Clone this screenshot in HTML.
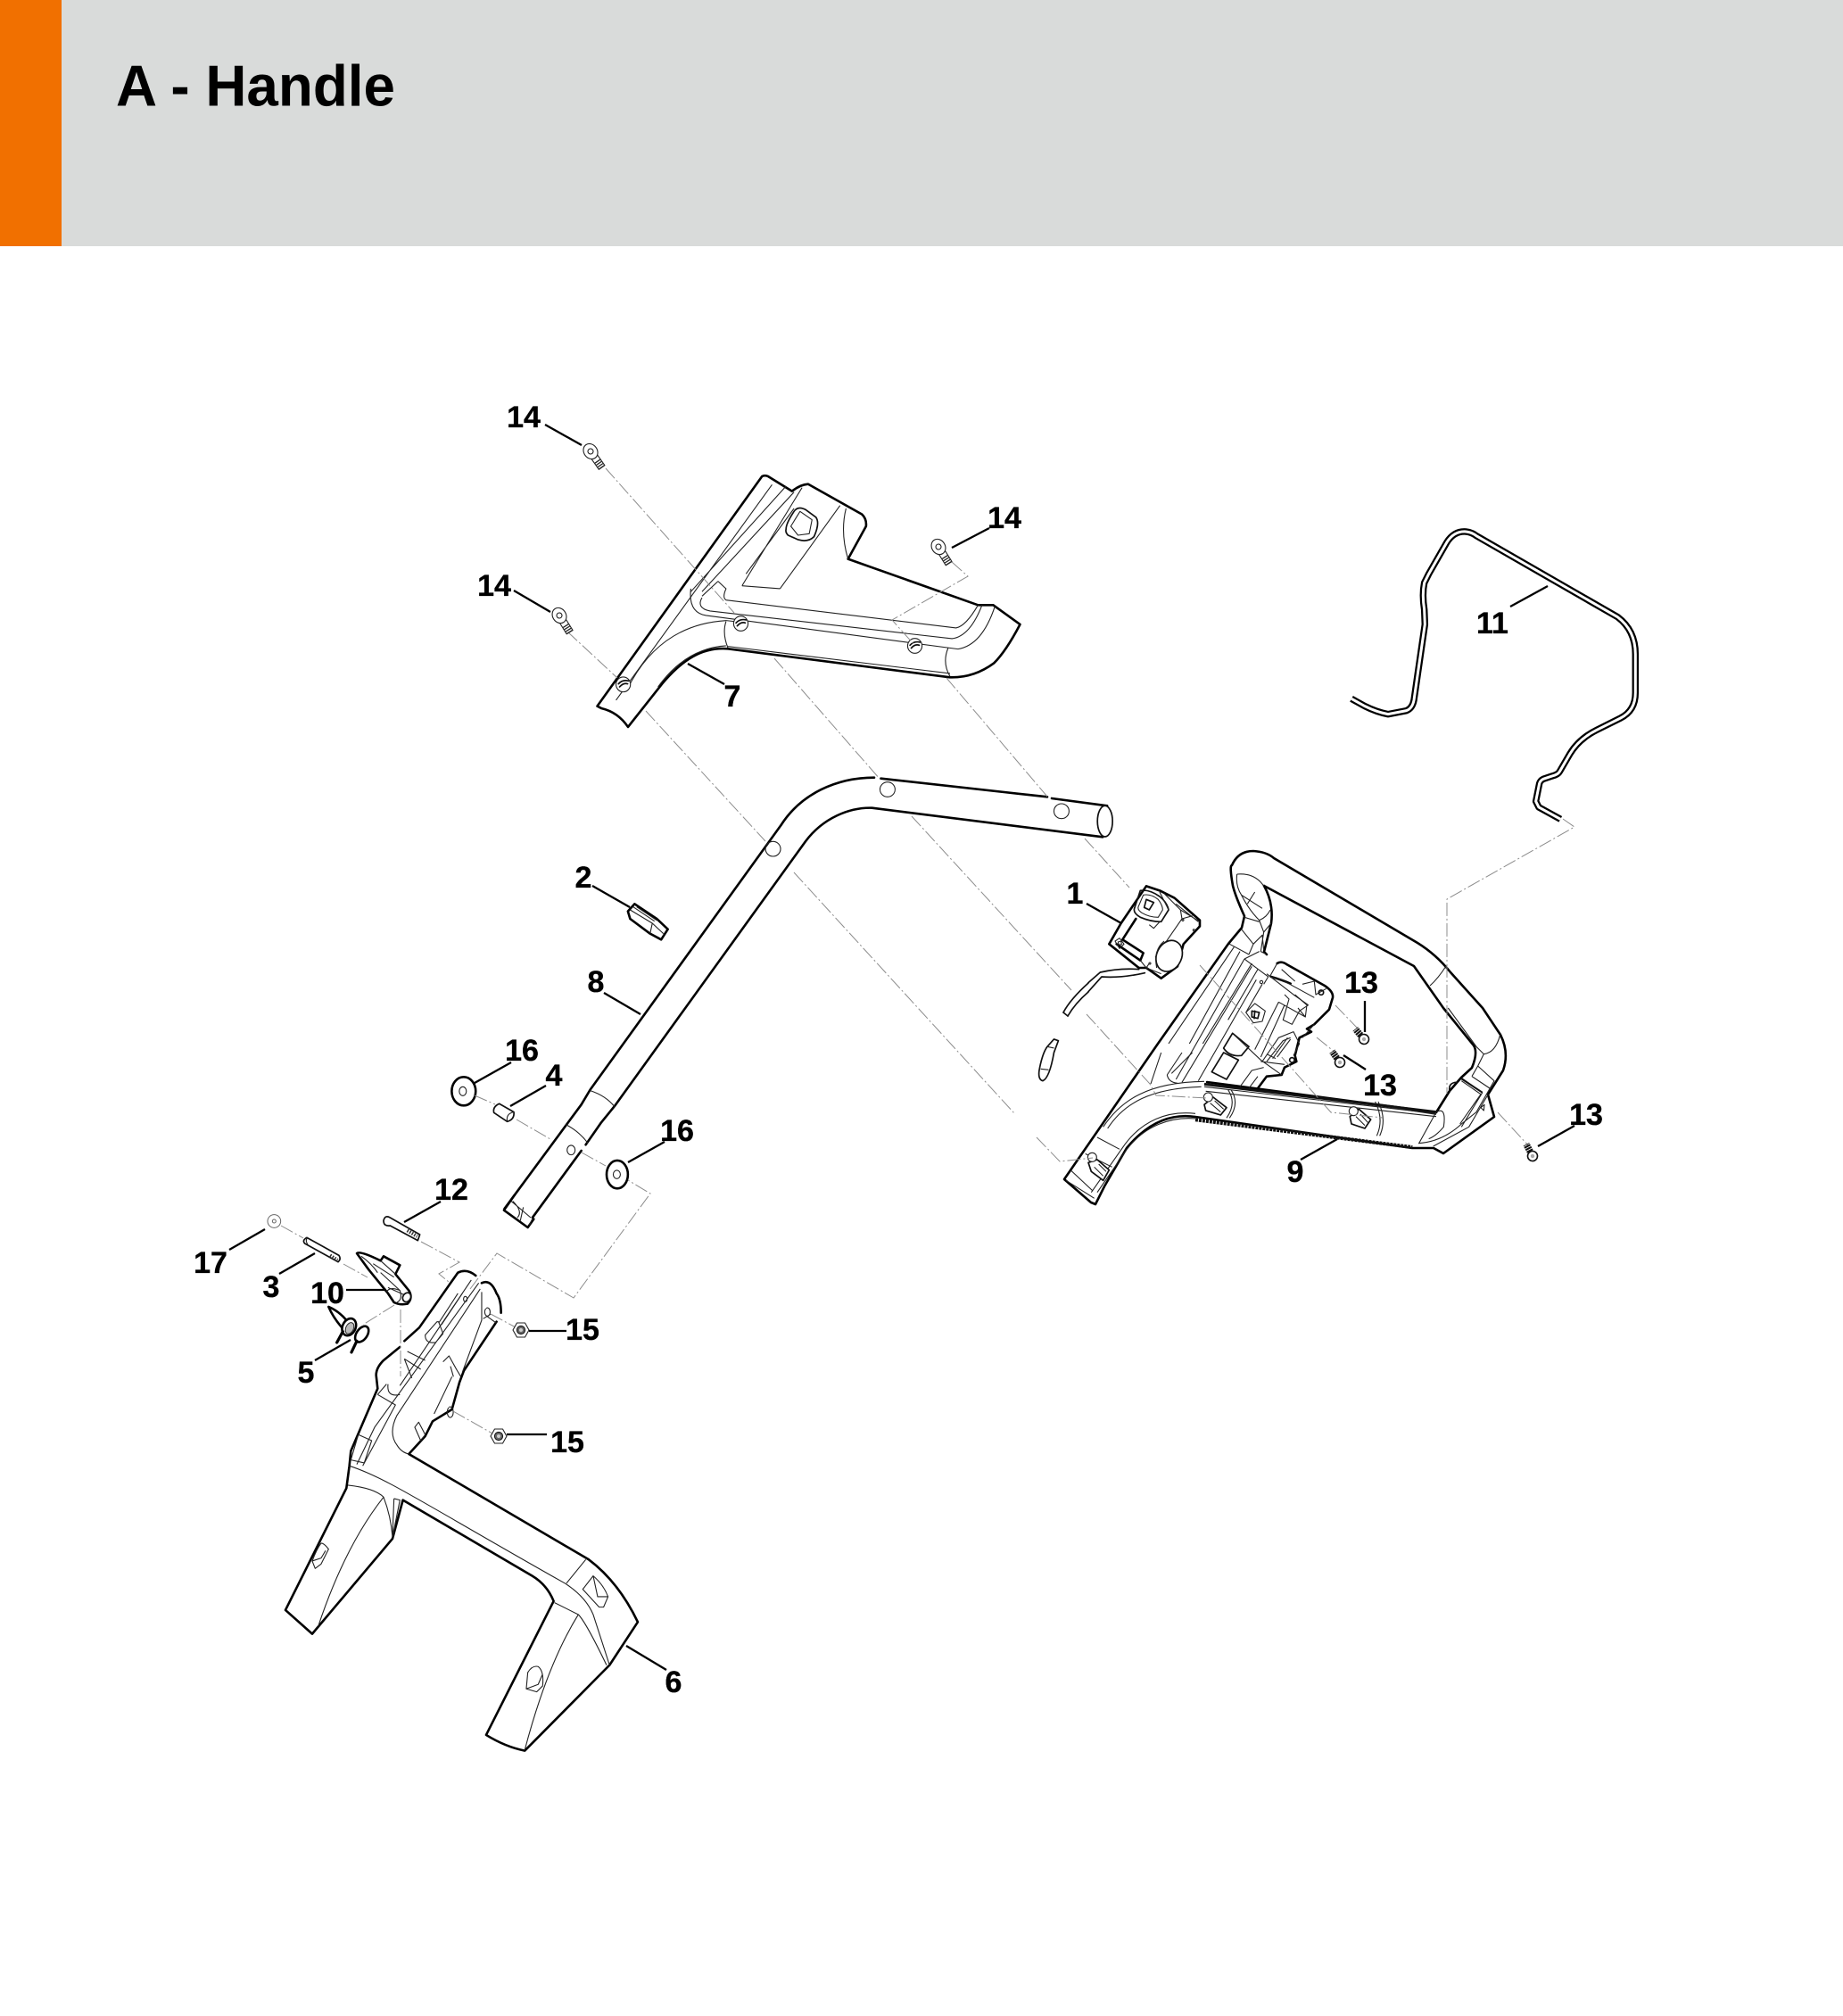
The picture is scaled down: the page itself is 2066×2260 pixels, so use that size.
<!DOCTYPE html>
<html><head><meta charset="utf-8"><title>A - Handle</title>
<style>
html,body{margin:0;padding:0;background:#fff}
svg{display:block}
svg *{vector-effect:non-scaling-stroke}
.k{fill:none;stroke:#000;stroke-width:2.6;stroke-linejoin:round;stroke-linecap:round}
.w{fill:#fff;stroke:#000;stroke-width:2.6;stroke-linejoin:round;stroke-linecap:round}
.m{fill:none;stroke:#111;stroke-width:1.7;stroke-linejoin:round;stroke-linecap:round}
.mw{fill:#fff;stroke:#111;stroke-width:1.7;stroke-linejoin:round}
.t{fill:none;stroke:#222;stroke-width:1.1;stroke-linejoin:round}
.tw{fill:#fff;stroke:#222;stroke-width:1.1;stroke-linejoin:round}
.d{fill:none;stroke:#8c8c8c;stroke-width:1;stroke-dasharray:15 3 2 3}
.l{fill:none;stroke:#000;stroke-width:2.3}
text.n{font-family:"Liberation Sans",sans-serif;font-weight:700;font-size:34px;text-anchor:middle;fill:#000;stroke:#000;stroke-width:.35}
</style></head><body>
<svg xmlns="http://www.w3.org/2000/svg" width="2066" height="2260" viewBox="0 0 2066 2260">
<defs>
<g id="b14"><path class="tw" d="M-4 5 L4 5 L4 22 L-4 22 Z"/><path d="M0 13 L0 22" stroke="#222" stroke-width="7" stroke-dasharray="1.3 1.4" fill="none"/><ellipse class="tw" rx="7.5" ry="9"/><circle class="t" r="3"/></g>
<g id="s13"><path d="M0 -3 L0 -15" stroke="#111" stroke-width="7.5" stroke-dasharray="2 .8" fill="none"/><circle r="5.5" fill="#fff" stroke="#111" stroke-width="1.6"/><circle r="2.2" fill="#aaa"/></g>
<g id="n15"><polygon class="tw" points="9,0 4.5,8 -4.5,8 -9,0 -4.5,-8 4.5,-8"/><circle r="4.6" fill="#666" stroke="#111"/><circle r="2" fill="#ccc"/></g>
</defs>
<rect width="2066" height="2260" fill="#fff"/>
<rect x="0" y="0" width="2066" height="276" fill="#d9dbda"/>
<rect x="0" y="0" width="69" height="276" fill="#f17000"/>
<text x="130" y="118.5" font-family="'Liberation Sans',sans-serif" font-weight="700" font-size="65" textLength="313" lengthAdjust="spacingAndGlyphs">A - Handle</text>

<!-- part 7 -->
<g transform="translate(500 430) scale(.4484 .3333)">
<path class="w" d="M378 1085 L790 312 Q797 307 805 312 L865 362 Q885 340 905 338 L1040 440 Q1052 455 1050 480 L1005 590 L1330 745 L1368 745 L1435 810 Q1400 900 1370 940 Q1320 990 1260 988 L705 892 C640 885 590 930 540 1010 L455 1155 Q430 1105 388 1092 Z"/>
<path class="t" d="M425 1065 L815 340 M612 700 L850 345 M640 700 L870 365 M740 680 L890 350 M835 690 L985 410 M740 680 L835 690 M750 640 L870 420 M1000 420 Q985 500 1005 590"/>
<path class="m" d="M850 490 Q850 470 870 430 Q880 410 900 425 L925 450 Q935 470 920 515 Q905 535 880 525 L855 510 Q848 500 850 490 Z"/>
<path class="t" d="M862 480 L885 430 L915 458 L908 505 L880 510 Z M612 690 Q605 770 650 780 L1280 893 Q1340 880 1372 750 M640 720 Q625 755 660 765 L1265 858 Q1310 850 1340 745 M680 665 L640 715 M680 665 L700 690 Q690 720 700 728 L1275 822 Q1300 815 1330 745 M460 1010 Q540 810 700 797 L720 800 M700 800 Q690 840 705 890 M1255 890 Q1240 940 1260 985 M705 884 L1260 975 M530 1020 Q600 890 700 882"/>
<ellipse cx="737" cy="807" rx="18" ry="25" class="tw"/><ellipse cx="1172" cy="882" rx="18" ry="25" class="tw"/><ellipse cx="443" cy="1012" rx="18" ry="25" class="tw"/>
<path class="m" d="M725 805 Q735 790 750 795 M728 815 Q738 800 748 805 M1160 880 Q1170 865 1185 870 M1163 890 Q1172 875 1183 880 M431 1010 Q441 995 456 1000 M434 1020 Q444 1005 454 1010"/>
</g>

<!-- part 8 tube -->
<g transform="translate(480 850) scale(.4975 .3333)">
<path d="M172 1515 L345 1165 L365 1115 L795 225 C840 120 920 65 1005 65 L1530 160 L1520 265 L1000 167 C950 165 890 200 850 280 L420 1170 L390 1225 L235 1545 Z" fill="#fff"/>
<path class="k" d="M172 1515 L345 1165 L365 1115 L795 225 C840 120 920 65 1005 65 M1020 68 L1395 130 M1405 135 L1530 160"/>
<path class="k" d="M235 1545 L345 1320 M355 1300 L390 1225 L420 1170 L850 280 C890 200 950 165 1000 167 L1520 265"/>
<ellipse class="mw" cx="1525" cy="212" rx="17" ry="52"/>
<ellipse class="t" cx="1035" cy="105" rx="17" ry="25"/><ellipse class="t" cx="1427" cy="178" rx="17" ry="25"/><ellipse class="t" cx="777" cy="305" rx="17" ry="25"/><ellipse class="t" cx="322" cy="1318" rx="9" ry="16"/>
<path class="t" d="M365 1118 Q400 1135 420 1172 M310 1232 Q340 1255 360 1295"/>
<!-- knob 2 -->
<path class="w" d="M450 515 L465 490 L515 540 L540 575 L525 610 L500 590 L455 540 Z"/>
<path class="t" d="M455 510 L505 555 L500 590 M470 500 L515 545 M505 555 L530 590 M462 500 L510 548"/>
<!-- washers and pin -->
<ellipse class="w" cx="80" cy="1120" rx="27" ry="48"/><ellipse class="t" cx="78" cy="1120" rx="8" ry="15"/>
<ellipse class="w" cx="426" cy="1400" rx="24" ry="47"/><ellipse class="t" cx="425" cy="1400" rx="8" ry="14"/>
<path class="mw" d="M160 1162 L193 1190 Q195 1215 178 1222 L148 1192 Q145 1172 160 1162 Z"/>
<path class="t" d="M193 1190 Q175 1195 178 1222"/>
<!-- clip -->
<path class="mw" d="M1410 945 L1420 950 L1410 990 Q1400 1075 1385 1085 Q1372 1080 1378 1040 Q1385 990 1395 970 Z"/>
<path class="t" d="M1395 970 L1410 975 M1380 1045 L1398 1048"/>
</g>

<!-- part 9 silhouette and hole -->
<path class="w" d="M1193 1322 L1298 1170 L1377 1058 L1392 1040 L1395 1027 Q1385 1005 1382 993 Q1378 970 1381 970 Q1388 954 1405 954 Q1420 955 1428 962 L1589 1057 Q1610 1070 1626 1090 L1662 1130 L1682 1160 Q1692 1180 1685 1200 L1668 1227 L1675 1252 L1618 1293 L1607 1287 L1583 1287 L1340 1252 C1313 1248 1287 1258 1263 1287 L1238 1330 L1228 1350 L1223 1348 Z"/>
<path d="M1417 993 L1585 1083 L1618 1130 L1652 1172 Q1657 1180 1650 1197 L1638 1208 L1625 1223 L1610 1247 L1353 1213 L1340 1211 L1440 1090 L1425 1035 Q1428 1013 1417 993 Z" fill="#fff"/>
<path class="k" d="M1417 993 Q1428 1013 1425 1035 L1417 1067 L1420 1070 M1417 993 L1585 1083 L1618 1130 L1652 1172 Q1657 1180 1650 1197 L1638 1208 L1625 1223 L1610 1247 M1353 1213 L1610 1247"/>
<path class="t" d="M1621 1083 Q1612 1097 1603 1105"/>

<!-- grip + bar upper + part 1 -->
<g transform="translate(1220 970) scale(.3333)">
<path class="t" d="M500 30 Q560 25 590 70 M500 30 Q495 70 515 100 Q540 150 575 185 Q600 175 612 150 M515 100 L585 145 M560 90 L535 130 M575 185 L590 225 L580 290 L600 300 M615 195 L590 225 M525 175 L575 190 M475 265 L540 300 M515 215 L555 265 L540 300 M525 315 L605 375 L590 400 M555 265 L585 235 L590 285 M525 315 L575 290 M490 275 L270 600 M510 290 L340 600 M550 330 L385 600 M570 350 L470 520"/>
<!-- cable -->
<path class="m" d="M170 350 Q105 345 40 360 L0 395 M190 362 Q110 380 45 375 L0 425"/>
<!-- part 1 -->
<path class="w" d="M195 70 L240 85 L290 110 L375 185 L375 205 L320 265 L300 340 L245 380 L195 345 L170 345 L70 265 L110 195 Z"/>
<path class="m" d="M175 85 Q205 80 240 105 Q265 125 270 150 L245 190 Q210 190 175 175 Q150 160 155 145 Z"/>
<path class="t" d="M185 100 Q210 95 235 115 Q250 135 250 150 L235 175 Q205 175 180 160 Q165 150 168 140 Z M240 90 L270 150 M255 95 L310 150 L375 190 M295 130 L370 190"/>
<path class="m" d="M195 115 L220 125 L205 150 L188 142 Z"/>
<path class="k" d="M160 180 L115 250 L185 295 L175 320 L95 265"/>
<path class="t" d="M205 200 L220 212 L240 190 M310 150 L315 180 L225 310 M315 180 L350 170 M90 255 L105 245 L120 265 L105 280 Z M100 258 L110 255 L112 266 L103 268 Z M175 320 L195 345 L245 365 M195 345 L205 330"/>
<circle class="t" cx="318" cy="184" r="3"/><circle class="t" cx="355" cy="218" r="3"/><circle class="t" cx="207" cy="330" r="3"/>
<ellipse class="mw" cx="272" cy="305" rx="42" ry="54" transform="rotate(25 272 305)"/>
<path class="t" d="M255 255 Q218 285 230 345"/>
</g>
<path class="m" d="M1192 1135 L1197 1139"/>
<path class="m" d="M1220 1102 Q1200 1120 1192 1135 M1220 1112 Q1205 1125 1197 1139"/>

<!-- bottom-left of part 9 -->
<g transform="translate(1180 1180) scale(.3333)">
<path class="t" d="M170 250 C230 160 320 100 510 97 M185 255 C240 170 330 120 500 115 M130 470 L235 320 C300 225 390 195 480 205 M150 470 L250 325 C310 245 400 215 480 222 M150 285 L225 325 M110 340 L200 385 M60 395 L135 465 M45 430 L140 490 M515 130 L1290 215 M510 115 L1290 205 M590 125 Q620 170 585 220 M600 125 Q630 170 595 220 M365 0 L330 105 M435 0 L385 75 M470 0 L400 70 M385 75 Q390 100 420 103 M1085 165 Q1115 225 1090 280 M1095 165 Q1125 225 1100 280"/>
<path class="mw" d="M510 175 L540 150 L585 185 L565 210 L515 195 Z"/><circle class="tw" cx="523" cy="150" r="15"/>
<path d="M530 170 L565 200 M545 162 L575 190" stroke="#111" fill="none"/>
<path class="mw" d="M120 370 L150 360 L190 395 L170 430 L130 400 Z"/><circle class="tw" cx="133" cy="352" r="15"/>
<path d="M140 385 L170 415 M155 375 L180 400" stroke="#111" fill="none"/>
<path class="mw" d="M1000 215 L1030 190 L1070 225 L1050 255 L1005 240 Z"/><circle class="tw" cx="1012" cy="197" r="15"/>
<path d="M1020 215 L1050 245 M1035 207 L1060 235" stroke="#111" fill="none"/>
<path d="M480 226 L1210 318" stroke="#111" stroke-width="4" stroke-dasharray="3 1" fill="none"/>
<path d="M510 106 L1290 200" stroke="#111" stroke-width="3" fill="none"/>
</g>

<!-- right end of part 9 -->
<g transform="translate(1560 1130) scale(.3333)">
<path class="t" d="M190 0 L285 130 L310 155 Q350 150 365 90 M310 155 L290 195 L270 230 M290 195 L345 245 L285 350 L235 390 Q170 450 90 455 M235 235 L305 285 L235 400 M270 230 L330 270 M150 350 Q185 330 175 400 Q150 430 125 440 M325 290 L260 400 L140 465 M150 350 L92 455 M300 335 L312 325 L310 345 Z M235 245 L300 290 L230 390 M0 335 L150 358"/>
<path class="m" d="M195 280 Q190 250 220 250"/>
<path d="M232 236 L305 284" stroke="#111" stroke-width="2" fill="none"/>
</g>

<!-- box inside part 9 -->
<g transform="translate(1300 1020) scale(.3333)">
<path class="k" d="M395 180 Q410 170 430 185 L555 255 Q585 275 582 295 L570 335 L520 385 L495 400 L510 410 L470 430 L455 490 L460 510 L420 530 L410 555 L360 560 L330 600"/>
<path class="k" d="M375 225 Q410 235 440 248"/>
<path class="t" d="M285 165 L55 570 M310 190 L75 580 M325 235 L130 575 M345 250 L290 345 M360 215 L450 285 L500 320 M370 225 L410 235 L520 295 M410 200 L455 240 M480 250 L520 240 L525 285 L560 265 M395 180 L370 225"/>
<circle class="t" cx="342" cy="243" r="5"/><circle class="m" cx="543" cy="278" r="8"/>
<path class="t" d="M290 345 L320 315 L355 340 L345 375 L315 380 Z"/>
<path class="m" d="M310 340 L335 345 L330 365 L310 360 Z M320 340 L318 365"/>
<path class="mw" d="M175 545 L225 570 L265 505 L215 480 Z"/>
<path class="mw" d="M215 465 L245 415 L300 460 L275 490 Q235 495 215 465 Z"/>
<path class="t" d="M250 420 L340 505 L410 555 M400 310 L490 360 L495 320 L455 285 M420 285 L435 300 L415 370 L445 385 L470 340 M400 310 L320 470 M420 320 L340 495 M340 510 L420 520 M270 595 L310 540 L350 530 M300 600 L330 560 M360 485 L390 500 M345 510 L400 430 L450 410 L470 450 L450 490 M360 510 L415 440 L440 430 M380 500 L430 430 M395 495 L440 435 M465 330 L490 360 M480 430 L520 385 M500 320 L470 340"/>
<circle class="mw" cx="445" cy="505" r="8"/>
</g>

<!-- wire 11 -->
<g transform="translate(1480 570) scale(.3333)">
<path d="M105 640 L150 665 Q190 685 228 692 L290 680 Q310 672 315 645 L352 390 L350 340 Q342 290 350 250 L365 220 L425 115 Q450 75 490 78 Q510 80 525 92 L1000 365 Q1060 410 1060 490 L1060 620 Q1060 680 1010 705 L930 745 Q870 775 840 825 L805 885 Q800 895 780 900 L750 910 Q740 915 737 925 L725 985 L735 1005 L808 1045" fill="none" stroke="#000" stroke-width="7.5" stroke-linejoin="round"/>
<path d="M105 640 L150 665 Q190 685 228 692 L290 680 Q310 672 315 645 L352 390 L350 340 Q342 290 350 250 L365 220 L425 115 Q450 75 490 78 Q510 80 525 92 L1000 365 Q1060 410 1060 490 L1060 620 Q1060 680 1010 705 L930 745 Q870 775 840 825 L805 885 Q800 895 780 900 L750 910 Q740 915 737 925 L725 985 L735 1005 L808 1045" fill="none" stroke="#fff" stroke-width="3" stroke-linejoin="round"/>
</g>

<!-- part 6 with arm, lower-left parts -->
<g transform="translate(200 1300) scale(.3333)">
<path d="M1000 390 Q970 365 940 380 L810 565 L760 610 L745 630 L690 675 L665 725 L670 770 L580 980 L575 1030 L565 1105 L360 1515 L450 1595 L720 1275 L755 1145 L1190 1400 Q1240 1430 1262 1485 L1035 1935 Q1100 1975 1165 1988 L1450 1700 L1545 1555 Q1480 1420 1380 1345 L775 990 L830 930 L855 880 L920 840 L945 750 L960 710 L1070 545 L1085 515 L1070 450 L1040 405 L1020 415 Z" fill="#fff"/>
<path class="k" d="M1000 390 Q970 365 940 380 L810 565 L760 610 M745 630 L690 675 Q665 700 665 725 L670 770 L580 980 L575 1030 L565 1105 L360 1515 L450 1595 L720 1275 L755 1145 L1190 1400 Q1240 1430 1262 1485 L1035 1935 Q1100 1975 1165 1988 L1450 1700 L1545 1555 Q1480 1420 1380 1345 L775 990 L830 930 L855 880 L920 840 L945 750 L960 710 L1070 545 M1085 515 Q1085 470 1070 450 Q1050 400 1020 415"/>
<path class="t" d="M985 405 L745 760 M1010 415 L660 900 L600 1025 M1015 435 L735 860 Q705 920 735 960 Q750 985 775 990 M670 790 L730 825 L620 1030 M700 755 L670 790 M770 645 L830 675 M760 670 L815 705 M760 670 L785 735 M705 755 Q700 800 745 790 M965 460 a6 9 0 1 0 .1 0 M870 545 L830 590 Q830 620 865 615 L890 585 L875 545 Z M875 550 L940 450 M885 555 L955 450 M1020 445 L1020 540 L955 715"/>
<path class="t" d="M605 925 L650 945 L625 1020 L580 1010 Z"/>
<path class="t" d="M1035 500 A9 14 0 1 1 1034 501 M1035 525 L1070 550 M1050 520 L1025 535 M890 680 L910 660 L935 705 L950 730 M915 695 L925 730 M860 855 L920 730 M910 833 A10 18 0 1 1 909 834 M795 900 L808 883 L830 925 L815 945 Z"/>
<path class="t" d="M575 1030 C700 1070 830 1160 1300 1425 Q1370 1470 1395 1530 L1450 1700 M570 1095 Q660 1105 690 1135 Q715 1200 720 1270 M690 1135 Q560 1300 470 1570 M725 1140 L745 1145 L720 1270 L725 1140 M1265 1490 L1345 1530 Q1370 1555 1440 1700 M1345 1530 Q1240 1700 1165 1985 M1370 1345 L1305 1425"/>
<path class="t" d="M505 1310 Q490 1290 480 1290 Q465 1310 450 1350 L460 1375 L480 1360 Z M450 1350 L480 1340 L495 1315 M1175 1725 Q1190 1700 1210 1705 Q1230 1720 1225 1770 L1205 1790 L1170 1780 Z M1170 1780 L1210 1765 L1225 1730 M1360 1445 L1395 1400 Q1430 1430 1445 1470 L1430 1505 L1415 1505 Z M1395 1400 L1410 1470 L1445 1470"/>
<!-- tube end -->
<path d="M1095 170 L1175 228 L1190 205 L1130 120 Z" fill="#fff"/>
<path class="k" d="M1130 120 L1095 170 L1175 228 L1195 200"/>
<path class="t" d="M1120 140 L1185 195 M1125 140 Q1160 175 1140 195 M1160 160 L1150 205 M1180 220 L1190 200"/>
<!-- bolt 12 -->
<path class="mw" d="M712 195 L812 252 L805 272 L712 222 Q690 225 690 205 Q695 185 712 195 Z"/>
<path d="M770 238 L803 258" stroke="#333" stroke-width="4" stroke-dasharray="1.5 1.5" fill="none"/>
<!-- pin 3 -->
<path class="mw" d="M432 262 L540 322 Q548 335 537 344 L425 282 Q415 272 432 262 Z"/>
<path d="M510 322 L535 338" stroke="#333" stroke-width="4" stroke-dasharray="1.5 1.5" fill="none"/>
<path class="t" d="M435 262 Q425 272 435 285"/>
<!-- washer 17 -->
<circle cx="322" cy="207" r="22" fill="#fff" stroke="#666" stroke-width="1"/><circle cx="322" cy="207" r="6" fill="#fff" stroke="#666" stroke-width="1"/>
<!-- lever 10 -->
<path class="w" d="M600 315 Q610 305 680 340 L690 325 L745 355 L730 385 L775 440 Q790 465 770 485 Q745 490 725 480 L705 450 L640 370 Z"/>
<path class="t" d="M615 325 Q650 350 670 380 M655 350 L725 395 M680 380 L745 440 M700 445 Q710 425 745 440 Q755 470 735 480 M680 340 L730 385 M705 430 L760 455"/>
<ellipse class="mw" cx="768" cy="463" rx="13" ry="16" transform="rotate(30 768 463)"/>
<!-- spring 5 -->
<path class="w" d="M505 495 Q540 510 565 540 L550 565 Q520 530 505 495 Z"/>
<ellipse class="w" cx="574" cy="563" rx="22" ry="30" transform="rotate(25 574 563)"/>
<ellipse cx="576" cy="567" rx="13" ry="20" transform="rotate(25 576 567)" fill="#bbb" stroke="#222" stroke-width="1"/>
<ellipse class="w" cx="617" cy="587" rx="18" ry="30" transform="rotate(35 617 587)"/>
<path class="k" style="stroke-width:3.2" d="M553 578 L533 615 M600 610 L582 648"/>
</g>

<!-- dashed leaders -->
<g class="d">
<path class="d" d="M679 525 L823 687"/><path class="d" d="M868 738 L986 873"/>
<path class="d" d="M1022 915 L1201 1110"/><path class="d" d="M1218 1137 L1289 1215 L1296 1228 L1354 1231"/>
<path class="d" d="M636 708 L692 760"/><path class="d" d="M724 797 L858 943"/><path class="d" d="M890 978 L1137 1248"/><path class="d" d="M1162 1275 L1188 1302 L1225 1298"/>
<path class="d" d="M1067 630 L1085 646 L1000 695 L1025 723"/><path class="d" d="M1061 760 L1174 893"/><path class="d" d="M1216 940 L1266 995"/><path class="d" d="M1345 1082 L1492 1247 L1550 1253"/>
<path class="d" d="M1497 1127 L1522 1153"/><path class="d" d="M1476 1163 L1497 1180"/><path class="d" d="M1679 1247 L1714 1285"/>
<path class="d" d="M1752 918 L1765 927 L1622 1008 L1622 1226"/>
<path class="d" d="M315 1374 L340 1388"/><path class="d" d="M385 1417 L412 1432"/>
<path class="d" d="M472 1392 L515 1415 L492 1428 L503 1437"/>
<path class="d" d="M527 1445 L557 1405 L643 1455 L729 1338 L704 1323"/>
<path class="d" d="M532 1228 L555 1238"/><path class="d" d="M579 1255 L617 1277"/><path class="d" d="M652 1292 L679 1307"/>
<path class="d" d="M442 1463 L407 1485"/><path class="d" d="M449 1468 L449 1543"/>
<path class="d" d="M550 1473 L578 1488"/><path class="d" d="M508 1582 L552 1607"/>
</g>

<!-- fasteners -->
<use href="#b14" transform="translate(662 506) rotate(-35)"/>
<use href="#b14" transform="translate(1052 613) rotate(-32)"/>
<use href="#b14" transform="translate(627 690) rotate(-32)"/>
<use href="#s13" transform="translate(1529 1165) rotate(-40)"/>
<use href="#s13" transform="translate(1502 1191) rotate(-35)"/>
<use href="#s13" transform="translate(1718 1296) rotate(-28)"/>
<use href="#n15" transform="translate(584 1491)"/>
<use href="#n15" transform="translate(559 1610)"/>

<!-- label leaders -->
<g class="l">
<path class="l" d="M611 476 L652 499"/><path class="l" d="M1067 614 L1109 592"/><path class="l" d="M576 662 L617 686"/><path class="l" d="M771 744 L812 767"/>
<path class="l" d="M1218 1013 L1257 1035"/><path class="l" d="M1530 1122 L1530 1157"/><path class="l" d="M1506 1183 L1531 1199"/><path class="l" d="M1724 1285 L1765 1262"/><path class="l" d="M1499 1277 L1458 1300"/>
<path class="l" d="M1735 657 L1693 680"/><path class="l" d="M664 993 L706 1017"/><path class="l" d="M677 1113 L718 1137"/><path class="l" d="M573 1191 L532 1214"/><path class="l" d="M612 1217 L572 1240"/><path class="l" d="M745 1280 L704 1303"/>
<path class="l" d="M494 1347 L453 1370"/><path class="l" d="M297 1378 L257 1401"/><path class="l" d="M353 1405 L313 1428"/><path class="l" d="M388 1446 L433 1446"/><path class="l" d="M393 1502 L353 1525"/><path class="l" d="M593 1492 L635 1492"/><path class="l" d="M568 1608 L613 1608"/><path class="l" d="M702 1845 L747 1872"/>
</g>

<!-- labels -->
<text class="n" x="587" y="479">14</text>
<text class="n" x="1126" y="592">14</text>
<text class="n" x="554" y="668">14</text>
<text class="n" x="821" y="792">7</text>
<text class="n" x="1205" y="1013">1</text>
<text class="n" x="1526" y="1113">13</text>
<text class="n" x="1547" y="1228">13</text>
<text class="n" x="1778" y="1261">13</text>
<text class="n" x="1452" y="1325">9</text>
<text class="n" x="1673" y="710">11</text>
<text class="n" x="654" y="995">2</text>
<text class="n" x="668" y="1112">8</text>
<text class="n" x="585" y="1189">16</text>
<text class="n" x="621" y="1217">4</text>
<text class="n" x="759" y="1279">16</text>
<text class="n" x="506" y="1345">12</text>
<text class="n" x="236" y="1427">17</text>
<text class="n" x="304" y="1454">3</text>
<text class="n" x="367" y="1461">10</text>
<text class="n" x="343" y="1550">5</text>
<text class="n" x="653" y="1502">15</text>
<text class="n" x="636" y="1628">15</text>
<text class="n" x="755" y="1897">6</text>
</svg>
</body></html>
